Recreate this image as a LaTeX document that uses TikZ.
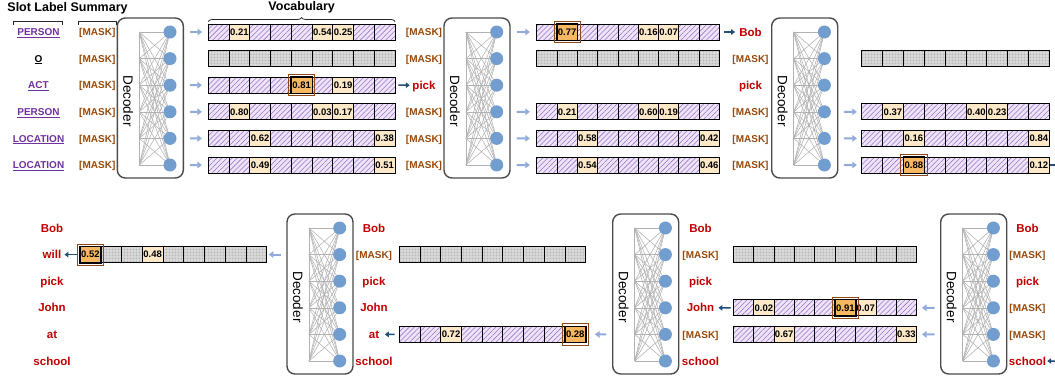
\documentclass[tikz,border=0pt]{standalone}
\usepackage{fontspec}
\setmainfont{Liberation Sans}
\usetikzlibrary{arrows.meta,patterns.meta,decorations.pathreplacing}

\definecolor{hatchbg}{RGB}{238,228,247}
\definecolor{hatchln}{RGB}{155,115,200}
\definecolor{valbg}{RGB}{253,233,200}
\definecolor{hibg}{RGB}{245,183,98}
\definecolor{hiframe}{RGB}{140,72,24}
\definecolor{dotbg}{RGB}{222,222,222}
\definecolor{dotfg}{RGB}{160,160,160}
\definecolor{neuroncol}{RGB}{114,157,207}
\definecolor{netcol}{RGB}{178,178,178}
\definecolor{boxcol}{RGB}{75,75,75}
\definecolor{inblue}{RGB}{143,170,220}
\definecolor{outblue}{RGB}{31,78,121}
\definecolor{slotpurple}{RGB}{112,48,160}
\definecolor{maskbrown}{RGB}{152,72,7}
\definecolor{wordred}{RGB}{192,0,0}

\newcommand\maskword{[MASK]}

% ---- vocabulary cells: pass A draws every cell, pass B frames highlighted ones
\newcommand\cellAh[4]{\node[cell,minimum width=#4pt,hatchcell] (#1) at (#2) {};}
\newcommand\cellAg[4]{\node[cell,minimum width=#4pt,dotcell] (#1) at (#2) {};}
\newcommand\cellAv[4]{\node[cell,minimum width=#4pt,fill=valbg] (#1) at (#2) {#3};}
\newcommand\cellAo[4]{\node[cell,minimum width=#4pt,fill=hibg] (#1) at (#2) {#3};}
\newcommand\cellBh[4]{}
\newcommand\cellBg[4]{}
\newcommand\cellBv[4]{}
\newcommand\cellBo[4]{%
  \draw[hiframe box] ([shift={(-2.3pt,2.2pt)}]#1.north west) rectangle ([shift={(2.3pt,-2.2pt)}]#1.south east);
  \draw[cell] (#1.north west) rectangle (#1.south east);}

% #1 name, #2 left x, #3 centre y, #4 cell width, #5 cells
\newcommand\vocab[5]{%
  \foreach \k/\t [count=\i] in {#5}{%
    \csname cellA\k\endcsname{#1-\i}{#2+#4*\i-#4/2,#3}{\t}{#4}}
  \foreach \k/\t [count=\i] in {#5}{%
    \csname cellB\k\endcsname{#1-\i}{#2+#4*\i-#4/2,#3}{\t}{#4}}}

% #1 name, #2 left x, #3 top y
\newcommand\decoder[3]{%
  \node[decbox] (#1) at ({#2+33},{#3+80}) {};
  \foreach \j in {1,...,6}{%
    \coordinate (#1-p\j) at ({#2+52.7},{#3+14+26.6*(\j-1)});
    \coordinate (#1-l\j) at ({#2+22},{#3+14+26.6*(\j-1)});}
  \foreach \a in {1,...,6}{\foreach \b in {1,...,6}{\draw[netline] (#1-l\a) -- (#1-p\b);}}
  \draw[netline] (#1-l1) -- (#1-l6);
  \foreach \j in {1,...,6}{\node[neuron] (#1-c\j) at (#1-p\j) {};}
  \node[dectext] (#1-t) at ({#2+11},{#3+83}) {Decoder};}

% #1 prefix, #2 x, #3 first y, #4 labels
\newcommand\labelcol[4]{%
  \foreach \s/\t [count=\i] in {#4}{%
    \node[lab\s] (#1-\i) at (#2,{#3+26.6*(\i-1)}) {\t};}}

\begin{document}
\begin{tikzpicture}[x=1pt,y=-1pt,
  cell/.style={draw=black,line width=0.8pt,minimum height=16pt,inner sep=0pt,
    font=\fontsize{9.5}{10}\selectfont\bfseries},
  hatchcell/.style={preaction={fill=hatchbg},
    pattern={Lines[angle=45,distance=3.6pt,line width=0.55pt]},pattern color=hatchln},
  dotcell/.style={preaction={fill=dotbg},
    pattern={Dots[distance=1.5pt,radius=0.33pt]},pattern color=dotfg},
  hiframe box/.style={draw=hiframe,line width=0.9pt},
  decbox/.style={draw=boxcol,line width=1.4pt,rounded corners=8pt,fill=white,
    minimum width=66pt,minimum height=160pt,inner sep=0pt},
  netline/.style={draw=netcol,line width=0.55pt},
  neuron/.style={circle,fill=neuroncol,minimum size=13pt,inner sep=0pt},
  dectext/.style={rotate=-90,inner sep=0pt,font=\fontsize{13.5}{14}\selectfont},
  labbase/.style={inner sep=1pt,text depth=0pt},
  labs/.style={labbase,text=slotpurple,text height=7.2pt,font=\fontsize{10}{11}\selectfont\bfseries},
  labk/.style={labbase,text=black,text height=7.2pt,font=\fontsize{10}{11}\selectfont\bfseries},
  labm/.style={labbase,text=maskbrown,text height=7.2pt,font=\fontsize{10}{11}\selectfont\bfseries},
  labw/.style={labbase,text=wordred,text height=8.2pt,font=\fontsize{11.5}{12}\selectfont\bfseries},
  title/.style={inner sep=0pt,font=\fontsize{12.5}{13}\selectfont\bfseries},
  bracket/.style={draw=black!85,line width=0.8pt},
  inarr/.style={draw=inblue,line width=2pt,-{Triangle[length=4.5pt,width=6.5pt]}},
  outarr/.style={draw=outblue,line width=1.5pt,-{Triangle[length=4pt,width=5.5pt]}},
  outline/.style={draw=outblue,line width=1.5pt}]

\useasboundingbox (0,0) rectangle (1055,380);

% ---- headings
\node[title] (ttl) at (67.5,8) {Slot Label Summary};
\node[title] (voc) at (301.7,7.5) {Vocabulary};
\draw[bracket] (13,25) -- (13,21) -- (62,21) -- (62,25);
\draw[bracket] (78,25) -- (78,21) -- (116,21) -- (116,25);
\draw[bracket,decorate,decoration={brace,amplitude=4pt}] (208.3,21.5) -- (395,21.5);

% ---- decoders
\decoder{D1}{117.3}{18}
\decoder{D2}{444}{18}
\decoder{D3}{771.7}{18}
\decoder{D4}{287}{214}
\decoder{D5}{612.7}{214}
\decoder{D6}{940.7}{214}

% ---- first pass
\vocab{B1r1}{208.3}{32}{20.74}{h,v/0.21,h,h,h,v/0.54,v/0.25,h,h}
\vocab{B1r2}{208.3}{58.6}{20.74}{g,g,g,g,g,g,g,g,g}
\vocab{B1r3}{208.3}{85.2}{20.74}{h,h,h,h,o/0.81,h,v/0.19,h,h}
\vocab{B1r4}{208.3}{111.8}{20.74}{h,v/0.80,h,h,h,v/0.03,v/0.17,h,h}
\vocab{B1r5}{208.3}{138.4}{20.74}{h,h,v/0.62,h,h,h,h,h,v/0.38}
\vocab{B1r6}{208.3}{165}{20.74}{h,h,v/0.49,h,h,h,h,h,v/0.51}

% ---- second pass
\vocab{B2r1}{536.7}{32}{20.3}{h,o/0.77,h,h,h,v/0.16,v/0.07,h,h}
\vocab{B2r2}{536.7}{58.6}{20.3}{g,g,g,g,g,g,g,g,g}
\vocab{B2r4}{536.7}{111.8}{20.3}{h,v/0.21,h,h,h,v/0.60,v/0.19,h,h}
\vocab{B2r5}{536.7}{138.4}{20.3}{h,h,v/0.58,h,h,h,h,h,v/0.42}
\vocab{B2r6}{536.7}{165}{20.3}{h,h,v/0.54,h,h,h,h,h,v/0.46}

% ---- third pass
\vocab{B3r2}{861.7}{58.6}{20.85}{g,g,g,g,g,g,g,g,g}
\vocab{B3r4}{861.7}{111.8}{20.85}{h,v/0.37,h,h,h,v/0.40,v/0.23,h,h}
\vocab{B3r5}{861.7}{138.4}{20.85}{h,h,v/0.16,h,h,h,h,h,v/0.84}
\vocab{B3r6}{861.7}{165}{20.85}{h,h,o/0.88,h,h,h,h,h,v/0.12}

% ---- fourth pass (right to left)
\vocab{BAr2}{733.3}{254.6}{20.37}{g,g,g,g,g,g,g,g,g}
\vocab{BAr4}{733.3}{307.8}{20.37}{h,v/0.02,h,h,h,o/0.91,v/0.07,h,h}
\vocab{BAr5}{733.3}{334.4}{20.37}{h,h,v/0.67,h,h,h,h,h,v/0.33}

% ---- fifth pass
\vocab{BBr2}{399.3}{254.6}{20.7}{g,g,g,g,g,g,g,g,g}
\vocab{BBr5}{399.3}{334.4}{20.7}{h,h,v/0.72,h,h,h,h,h,o/0.28}

% ---- sixth pass
\vocab{BCr2}{80}{254.6}{20.74}{o/0.52,g,g,v/0.48,g,g,g,g,g}

% ---- token columns
\labelcol{L0}{38.5}{32}{s/\underline{PERSON},k/\underline{O},s/\underline{ACT},s/\underline{PERSON},s/\underline{LOCATION},s/\underline{LOCATION}}
\labelcol{L1}{97.3}{32}{m/\maskword,m/\maskword,m/\maskword,m/\maskword,m/\maskword,m/\maskword}
\labelcol{L2}{424}{32}{m/\maskword,m/\maskword,w/pick,m/\maskword,m/\maskword,m/\maskword}
\labelcol{L3}{750.5}{32}{w/Bob,m/\maskword,w/pick,m/\maskword,m/\maskword,m/\maskword}
\labelcol{L6}{1027.5}{228}{w/Bob,m/\maskword,w/pick,m/\maskword,m/\maskword,w/school}
\labelcol{L5}{700.5}{228}{w/Bob,m/\maskword,w/pick,w/John,m/\maskword,w/school}
\labelcol{L4}{374}{228}{w/Bob,m/\maskword,w/pick,w/John,w/at,w/school}
\labelcol{L7}{52}{228}{w/Bob,w/will,w/pick,w/John,w/at,w/school}

% ---- decoder outputs into the vocabulary
\foreach \r in {1,3,4,5,6}
  \draw[inarr,shorten <=6pt,shorten >=6pt] (D1.east |- D1-c\r) -- (B1r\r-1.west);
\foreach \r in {1,4,5,6}
  \draw[inarr,shorten <=6pt,shorten >=6.5pt] (D2.east |- D2-c\r) -- (B2r\r-1.west);
\foreach \r in {4,5,6}
  \draw[inarr,shorten <=5.5pt,shorten >=4.5pt] (D3.east |- D3-c\r) -- (B3r\r-1.west);
\foreach \r in {4,5}
  \draw[inarr,shorten <=5.5pt,shorten >=5pt] (D6.west |- D6-c\r) -- (BAr\r-9.east);
\draw[inarr,shorten <=6pt,shorten >=9pt] (D5.west |- D5-c5) -- (BBr5-9.east);
\draw[inarr,shorten <=5.3pt,shorten >=1.8pt] (D4.west |- D4-c2) -- (BCr2-9.east);

% ---- chosen tokens
\draw[outarr,shorten <=3pt,shorten >=1.5pt] (B1r3-9.east) -- (L2-3.west);
\draw[outarr,shorten <=4.5pt,shorten >=3pt] (B2r1-9.east) -- (L3-1.west);
\coordinate (wrapA) at (1055,165);
\coordinate (wrapB) at (1055,361);
\draw[outline] (B3r6-9.east) -- (wrapA);
\draw[outarr] (wrapB) -- (L6-6.east);
\draw[outarr,shorten <=2.3pt,shorten >=3pt] (BAr4-1.west) -- (L5-4.east);
\draw[outarr,shorten <=4.3pt,shorten >=4.5pt] (BBr5-1.west) -- (L4-5.east);
\draw[outarr,shorten <=3pt,shorten >=2pt] (BCr2-1.west) -- (L7-2.east);
\end{tikzpicture}
\end{document}
